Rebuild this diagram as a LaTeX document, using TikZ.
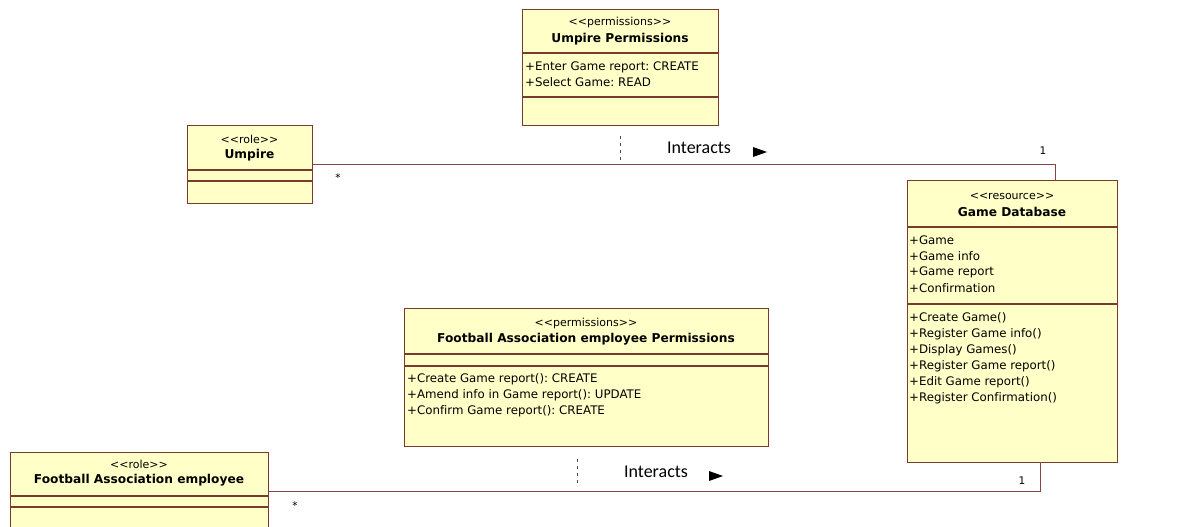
\documentclass[tikz,border=0pt]{standalone}
\usepackage{fontspec}
\setmainfont{DejaVu Sans}[Ligatures=NoCommon]
\newfontfamily\labelfont{Carlito}
\begin{document}
\frenchspacing
\definecolor{fillc}{HTML}{FFFFC8}
\definecolor{boxc}{HTML}{7A3B2E}
\definecolor{linec}{HTML}{8A4444}
\newcommand{\stype}[1]{{<}{<}#1{>}{>}}
\begin{tikzpicture}[x=1pt,y=-1pt,
  umlbox/.style={draw=boxc, fill=fillc, line width=1.2pt, inner sep=0pt, anchor=north west},
  divider/.style={draw=boxc, line width=1.2pt},
  member/.style={inner sep=0pt, anchor=west, font=\fontsize{11.8}{13}\selectfont},
  stereo/.style={inner sep=0pt, anchor=center, font=\fontsize{11}{13}\selectfont},
  title/.style={inner sep=0pt, anchor=center, font=\fontsize{12.2}{14}\selectfont\bfseries},
  assoc/.style={draw=linec, line width=1pt},
  mult/.style={inner sep=0pt, anchor=center, font=\fontsize{10.5}{12}\selectfont},
  verb/.style={inner sep=0pt, anchor=center, font=\labelfont\fontsize{18}{20}\selectfont},
  tick/.style={draw=black!70, line width=0.7pt, dash pattern=on 3pt off 4pt}]
\useasboundingbox[fill=white] (0,0) rectangle (1199,527);

% ---- Umpire Permissions ----
\node[umlbox, minimum width=196pt, minimum height=116pt] (up) at (522,9) {};
\draw[divider] (522,53) -- (718,53);
\draw[divider] (522,97) -- (718,97);
\node[stereo] (upst) at (620,22) {\stype{permissions}};
\node[title] (upnm) at (620,39) {Umpire Permissions};
\node[member] (upa1) at (525,67) {+Enter Game report: CREATE};
\node[member] (upa2) at (525,82) {+Select Game: READ};

% ---- Umpire ----
\node[umlbox, minimum width=125pt, minimum height=78pt] (umpire) at (187,125) {};
\draw[divider] (187,170) -- (312,170);
\draw[divider] (187,181) -- (312,181);
\node[stereo] (umst) at (249.5,139) {\stype{role}};
\node[title] (umnm) at (249.5,155) {Umpire};

% ---- Game Database ----
\node[umlbox, minimum width=210pt, minimum height=282pt] (db) at (907,180) {};
\draw[divider] (907,227) -- (1117,227);
\draw[divider] (907,304) -- (1117,304);
\node[stereo] (dbst) at (1012,196) {\stype{resource}};
\node[title] (dbnm) at (1012,212) {Game Database};
\node[member] (dba1) at (909,240) {+Game};
\node[member] (dba2) at (909,256) {+Game info};
\node[member] (dba3) at (909,272) {+Game report};
\node[member] (dba4) at (909,288) {+Confirmation};
\node[member] (dbo1) at (909,318) {+Create Game()};
\node[member] (dbo2) at (909,334) {+Register Game info()};
\node[member] (dbo3) at (909,350) {+Display Games()};
\node[member] (dbo4) at (909,366) {+Register Game report()};
\node[member] (dbo5) at (909,382) {+Edit Game report()};
\node[member] (dbo6) at (909,398) {+Register Confirmation()};

% ---- Football Association employee Permissions ----
\node[umlbox, minimum width=364pt, minimum height=138pt] (fp) at (404,308) {};
\draw[divider] (404,354) -- (768,354);
\draw[divider] (404,366) -- (768,366);
\node[stereo] (fpst) at (586,323) {\stype{permissions}};
\node[title] (fpnm) at (586,339) {Football Association employee Permissions};
\node[member] (fpo1) at (407,379) {+Create Game report(): CREATE};
\node[member] (fpo2) at (407,395) {+Amend info in Game report(): UPDATE};
\node[member] (fpo3) at (407,411) {+Confirm Game report(): CREATE};

% ---- Football Association employee ----
\node[umlbox, minimum width=258pt, minimum height=78pt] (fae) at (10,452) {};
\draw[divider] (10,496) -- (268,496);
\draw[divider] (10,507) -- (268,507);
\node[stereo] (faest) at (139,464) {\stype{role}};
\node[title] (faenm) at (139,480) {Football Association employee};

% ---- associations ----
\coordinate (dbtop) at (1055,180);
\coordinate (dbbot) at (1040,462);
\draw[assoc] (umpire.east) -| (dbtop);
\draw[assoc] (fae.east) -| (dbbot);

\node[mult] (m1) at (338,178) {*};
\node[mult] (m2) at (1043,151) {1};
\node[mult] (m3) at (295,506) {*};
\node[mult] (m4) at (1022,481) {1};

\node[verb] (v1) at (699,148) {Interacts};
\node[verb] (v2) at (656,472) {Interacts};
\fill[black] (753,147) -- (767,152) -- (753,157) -- cycle;
\fill[black] (709,471) -- (723,476) -- (709,481) -- cycle;

\draw[tick] (620,136) -- (620,162);
\draw[tick] (577,459) -- (577,486);
\end{tikzpicture}
\end{document}
